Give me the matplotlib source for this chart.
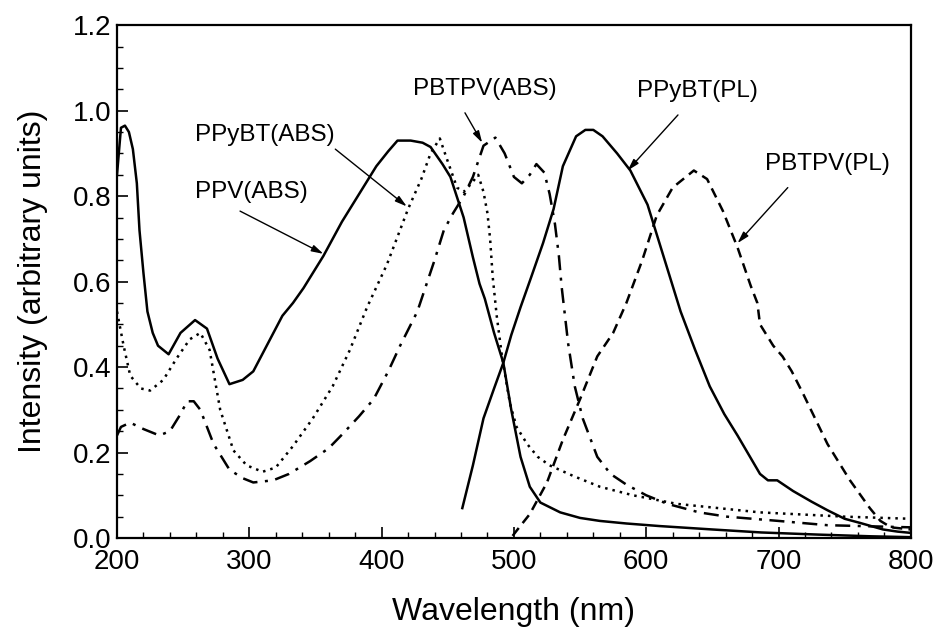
import matplotlib
matplotlib.use("Agg")
import matplotlib.pyplot as plt
from matplotlib.ticker import MultipleLocator

plt.rcParams['font.family'] = ['Liberation Sans', 'DejaVu Sans']

# PPV(ABS) - solid
ppv_abs_x = [200, 203, 206, 209, 212, 215, 217, 220, 223, 227, 231, 239, 248, 259, 268, 276, 285,
             295, 303, 314, 325, 333, 341, 356, 370, 384, 396, 405, 412, 422, 431, 437, 446, 452,
             462, 469, 474, 478, 485, 492, 498, 505, 512, 520, 535, 550, 565, 585, 610, 650, 687,
             730, 770, 800]
ppv_abs_y = [0.85, 0.96, 0.965, 0.95, 0.91, 0.83, 0.72, 0.62, 0.53, 0.48, 0.45, 0.43, 0.48, 0.51, 0.49,
             0.42, 0.36, 0.37, 0.39, 0.455, 0.52, 0.55, 0.585, 0.66, 0.74, 0.81, 0.87, 0.905, 0.93,
             0.93, 0.925, 0.915, 0.875, 0.845, 0.75, 0.657, 0.595, 0.56, 0.48, 0.41, 0.30, 0.19,
             0.12, 0.083, 0.06, 0.047, 0.04, 0.034, 0.028, 0.02, 0.013, 0.008, 0.004, 0.002]

# PPyBT(ABS) - dotted
ppybt_abs_x = [200, 205, 210, 218, 225, 235, 245, 255, 263, 270, 278, 288, 298, 310, 320, 333, 348,
               363, 376, 389, 404, 420, 430, 437, 444, 449, 457, 462, 468, 473, 477, 480, 482, 484,
               487, 491, 497, 502, 510, 518, 527, 545, 565, 590, 623, 686, 750, 800]
ppybt_abs_y = [0.53, 0.45, 0.38, 0.35, 0.345, 0.37, 0.42, 0.465, 0.48, 0.44, 0.30, 0.205, 0.17, 0.155,
               0.165, 0.215, 0.28, 0.355, 0.44, 0.54, 0.64, 0.77, 0.84, 0.90, 0.935, 0.89, 0.82, 0.81,
               0.83, 0.85, 0.81, 0.76, 0.70, 0.61, 0.52, 0.425, 0.315, 0.26, 0.22, 0.19, 0.17, 0.145,
               0.12, 0.10, 0.08, 0.06, 0.05, 0.045]

# PBTPV(ABS) - dash-dot
pbtpv_abs_x = [200, 203, 210, 220, 232, 240, 248, 253, 258, 263, 273, 285, 295, 303, 318, 330, 346,
               360, 371, 383, 394, 405, 414, 427, 440, 447, 454, 462, 469, 477, 486, 493, 500, 506,
               512, 517, 523, 527, 531, 534, 536, 541, 546, 552, 563, 573, 585, 600, 616, 640, 661,
               700, 737, 800]
pbtpv_abs_y = [0.24, 0.26, 0.27, 0.255, 0.24, 0.25, 0.29, 0.32, 0.32, 0.30, 0.22, 0.16, 0.14, 0.13,
               0.135, 0.15, 0.18, 0.21, 0.245, 0.285, 0.325, 0.39, 0.45, 0.53, 0.65, 0.72, 0.76, 0.80,
               0.845, 0.918, 0.937, 0.90, 0.845, 0.83, 0.85, 0.875, 0.855, 0.805, 0.735, 0.66, 0.59,
               0.455, 0.355, 0.28, 0.19, 0.15, 0.125, 0.10, 0.08, 0.06, 0.05, 0.04, 0.03, 0.025]

# PPyBT(PL) - solid
ppybt_pl_x = [461, 469, 477, 485, 492, 498, 505, 513, 522, 530, 537, 547, 554, 560, 567, 578, 588,
              601, 613, 626, 637, 648, 659, 669, 686, 692, 699, 711, 725, 737, 750, 762, 779, 790, 800]
ppybt_pl_y = [0.07, 0.17, 0.28, 0.35, 0.41, 0.475, 0.54, 0.61, 0.69, 0.77, 0.87, 0.94, 0.955, 0.955,
              0.94, 0.90, 0.86, 0.78, 0.66, 0.53, 0.44, 0.355, 0.29, 0.24, 0.15, 0.135, 0.135, 0.11,
              0.085, 0.065, 0.045, 0.035, 0.02, 0.015, 0.012]

# PBTPV(PL) - dashed
pbtpv_pl_x = [499, 502, 512, 525, 537, 550, 563, 575, 585, 597, 608, 620, 636, 646, 658, 669, 679,
              684, 686, 696, 703, 710, 719, 737, 754, 769, 777, 785, 800]
pbtpv_pl_y = [0.005, 0.017, 0.056, 0.13, 0.23, 0.325, 0.425, 0.48, 0.55, 0.65, 0.755, 0.82, 0.86, 0.84,
              0.765, 0.68, 0.59, 0.55, 0.50, 0.45, 0.425, 0.39, 0.335, 0.22, 0.135, 0.07, 0.04, 0.025,
              0.02]

# label text, text anchor (left, centre), arrow tail, arrow tip
labels = ['PPyBT(ABS)', 'PPV(ABS)', 'PBTPV(ABS)', 'PPyBT(PL)', 'PBTPV(PL)']
label_pos = [(259, 0.944), (259, 0.81), (424, 1.05), (593, 1.046), (690, 0.875)]
arrow_tail = [(365, 0.91), (293, 0.765), (463, 0.995), (624, 0.99), (707, 0.82)]
arrow_tip = [(419, 0.776), (356, 0.665), (476, 0.925), (586, 0.86), (669, 0.69)]

fig = plt.figure(figsize=(9.39, 6.3), dpi=100)
ax = fig.add_axes([0.1246, 0.146, 0.8454, 0.814])

lw = 1.8
ax.plot(ppv_abs_x, ppv_abs_y, color='black', lw=lw, ls='-')
ax.plot(ppybt_abs_x, ppybt_abs_y, color='black', lw=lw, ls=(0, (1, 2)))
ax.plot(pbtpv_abs_x, pbtpv_abs_y, color='black', lw=lw, ls=(0, (6, 3, 1.2, 3)))
ax.plot(ppybt_pl_x, ppybt_pl_y, color='black', lw=lw, ls='-')
ax.plot(pbtpv_pl_x, pbtpv_pl_y, color='black', lw=lw, ls=(0, (4, 2.5)))

for txt, pos, tail, tip in zip(labels, label_pos, arrow_tail, arrow_tip):
    ax.text(pos[0], pos[1], txt, fontsize=17.5, ha='left', va='center')
    ax.annotate('', xy=tip, xytext=tail,
                arrowprops=dict(arrowstyle='-|>,head_length=0.7,head_width=0.2',
                                color='black', lw=1.0, shrinkA=0, shrinkB=0))

ax.set_xlim(200, 800)
ax.set_ylim(0, 1.2)
ax.xaxis.set_major_locator(MultipleLocator(100))
ax.xaxis.set_minor_locator(MultipleLocator(20))
ax.yaxis.set_major_locator(MultipleLocator(0.2))
ax.yaxis.set_minor_locator(MultipleLocator(0.05))
ax.yaxis.set_major_formatter(plt.FuncFormatter(lambda v, p: '%.1f' % v))
ax.tick_params(which='both', direction='in', top=False, right=False, labelsize=20)
ax.tick_params(axis='y', which='major', length=8, width=1.2, pad=4)
ax.tick_params(axis='x', which='major', length=8, width=1.2, pad=8)
ax.tick_params(which='minor', length=4, width=1.0)
for s in ax.spines.values():
    s.set_linewidth(1.6)

ax.set_xlabel('Wavelength (nm)', fontsize=23, labelpad=16)
ax.set_ylabel('Intensity (arbitrary units)', fontsize=23, labelpad=18)

fig.savefig('out.png', dpi=100)
